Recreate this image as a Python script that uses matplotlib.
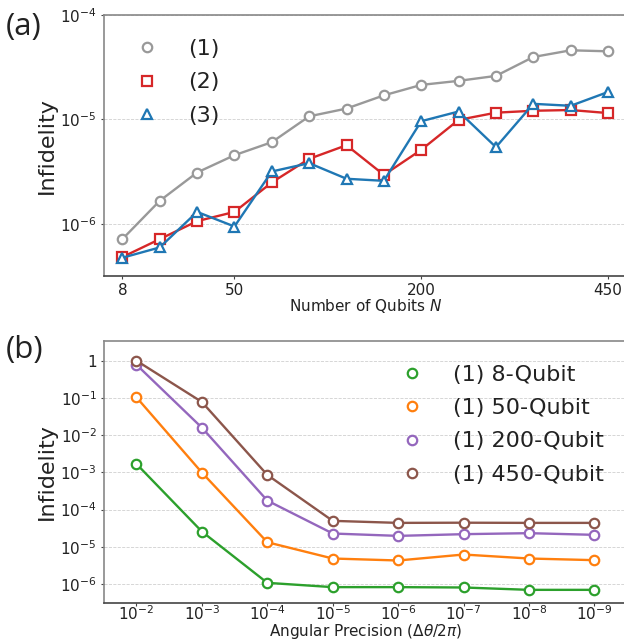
import matplotlib
matplotlib.use("Agg")
import matplotlib.pyplot as plt
from matplotlib.lines import Line2D
from matplotlib.ticker import NullLocator, FixedLocator, FixedFormatter

# ---------------- data: panel (a) ----------------
qubit_tick_pos = [0, 3, 8, 13]
qubit_tick_labels = ["8", "50", "200", "450"]
n_points_a = 14
series1 = [7.13e-7, 1.66e-6, 3.10e-6, 4.54e-6, 6.05e-6, 1.07e-5, 1.27e-5,
           1.70e-5, 2.14e-5, 2.34e-5, 2.61e-5, 3.96e-5, 4.59e-5, 4.49e-5]
series2 = [4.80e-7, 7.13e-7, 1.06e-6, 1.30e-6, 2.49e-6, 4.19e-6, 5.66e-6,
           2.94e-6, 5.11e-6, 9.89e-6, 1.16e-5, 1.21e-5, 1.23e-5, 1.15e-5]
series3 = [4.73e-7, 5.94e-7, 1.30e-6, 9.42e-7, 3.17e-6, 3.81e-6, 2.70e-6,
           2.58e-6, 9.61e-6, 1.19e-5, 5.42e-6, 1.41e-5, 1.35e-5, 1.83e-5]
labels_a = ["(1)", "(2)", "(3)"]
a_ytick_vals = [1e-6, 1e-5, 1e-4]
a_ytick_labels = [r"$\mathdefault{10^{-6}}$", r"$\mathdefault{10^{-5}}$", r"$\mathdefault{10^{-4}}$"]

# ---------------- data: panel (b) ----------------
precision_labels = [r"$\mathdefault{10^{-%d}}$" % k for k in range(2, 10)]
q8 = [1.69e-3, 2.58e-5, 1.08e-6, 8.28e-7, 8.28e-7, 8.10e-7, 7.0e-7, 7.0e-7]
q50 = [0.104, 9.9e-4, 1.33e-5, 4.86e-6, 4.30e-6, 6.22e-6, 4.86e-6, 4.39e-6]
q200 = [0.78, 1.59e-2, 1.75e-4, 2.28e-5, 1.97e-5, 2.19e-5, 2.33e-5, 2.10e-5]
q450 = [1.0, 7.78e-2, 8.55e-4, 4.99e-5, 4.40e-5, 4.45e-5, 4.40e-5, 4.40e-5]
labels_b = ["(1) 8-Qubit", "(1) 50-Qubit", "(1) 200-Qubit", "(1) 450-Qubit"]
b_ytick_vals = [1e-6, 1e-5, 1e-4, 1e-3, 1e-2, 1e-1, 1]
b_ytick_labels = [r"$\mathdefault{10^{-6}}$", r"$\mathdefault{10^{-5}}$", r"$\mathdefault{10^{-4}}$",
                  r"$\mathdefault{10^{-3}}$", r"$\mathdefault{10^{-2}}$", r"$\mathdefault{10^{-1}}$", "1"]

plt.rcParams['font.family'] = ['DejaVu Sans']
plt.rcParams['mathtext.fontset'] = 'dejavusans'

fig = plt.figure(figsize=(6.24, 6.44), dpi=100)
W, H = 624.0, 644.0

def axes_px(l, t, r, b):
    return fig.add_axes([l / W, 1 - b / H, (r - l) / W, (b - t) / H])

ax_a = axes_px(103.7, 15.0, 626.7, 276.0)
ax_b = axes_px(103.7, 341.3, 627.2, 602.7)

txt_col = '#222222'
ms, mew, lw = 6.8, 1.6, 1.7

def style(ax):
    for s in ['left', 'top', 'right']:
        ax.spines[s].set_color('#888888')
        ax.spines[s].set_linewidth(1.2)
    ax.spines['bottom'].set_color('#444444')
    ax.spines['bottom'].set_linewidth(1.2)
    ax.tick_params(axis='both', which='major', length=2.5, width=0.8, color='#444444',
                   pad=2.5, labelsize=11, labelcolor=txt_col)
    ax.yaxis.set_minor_locator(NullLocator())
    ax.xaxis.set_minor_locator(NullLocator())
    ax.grid(axis='y', which='major', linestyle='--', color='#d0d0d0', linewidth=0.6)
    ax.set_axisbelow(True)

# ---------------- panel (a) ----------------
xa = list(range(n_points_a))
cols_a = ['#999999', '#d62728', '#1f77b4']
marks_a = ['o', 's', '^']
for ys, c, m in zip([series1, series2, series3], cols_a, marks_a):
    ax_a.plot(xa, ys, color=c, lw=lw, marker=m, ms=ms, mew=mew, mfc='white', mec=c, zorder=3)
ax_a.set_yscale('log')
ax_a.set_ylim(10 ** -6.5, 1e-4)
ax_a.set_xlim(-0.5, n_points_a - 0.5)
style(ax_a)
ax_a.yaxis.set_major_locator(FixedLocator(a_ytick_vals))
ax_a.yaxis.set_major_formatter(FixedFormatter(a_ytick_labels))
ax_a.yaxis.set_minor_locator(NullLocator())
ax_a.set_xticks(qubit_tick_pos)
ax_a.set_xticklabels(qubit_tick_labels)
ax_a.set_xlabel(r"Number of Qubits $N$", fontsize=11, color=txt_col, labelpad=-1)
ax_a.set_ylabel("Infidelity", fontsize=16, color=txt_col)
ax_a.yaxis.set_label_coords(-0.09, 0.5)
handles_a = [Line2D([], [], ls='none', marker=m, ms=ms, mew=mew, mfc='white', mec=c)
             for c, m in zip(cols_a, marks_a)]
ax_a.legend(handles_a, labels_a, loc='upper left', bbox_to_anchor=(0.061, 0.908),
            frameon=False, fontsize=16, handlelength=1.0, handletextpad=1.35,
            labelspacing=0.6, borderpad=0, borderaxespad=0, labelcolor=txt_col)

# ---------------- panel (b) ----------------
xb = list(range(len(precision_labels)))
cols_b = ['#2ca02c', '#ff7f0e', '#9467bd', '#8c564b']
for ys, c in zip([q8, q50, q200, q450], cols_b):
    ax_b.plot(xb, ys, color=c, lw=lw, marker='o', ms=ms, mew=mew, mfc='white', mec=c, zorder=3)
ax_b.set_yscale('log')
ax_b.set_ylim(10 ** -6.5, 10 ** 0.52)
ax_b.set_xlim(-0.5, len(precision_labels) - 0.5)
style(ax_b)
ax_b.tick_params(axis='x', pad=-1.1)
ax_b.yaxis.set_major_locator(FixedLocator(b_ytick_vals))
ax_b.yaxis.set_major_formatter(FixedFormatter(b_ytick_labels))
ax_b.yaxis.set_minor_locator(NullLocator())
ax_b.set_xticks(xb)
ax_b.set_xticklabels(precision_labels)
ax_b.set_xlabel(r"Angular Precision ($\Delta\theta/2\pi$)", fontsize=11, color=txt_col, labelpad=-1)
ax_b.set_ylabel("Infidelity", fontsize=16, color=txt_col)
ax_b.yaxis.set_label_coords(-0.09, 0.5)
handles_b = [Line2D([], [], ls='none', marker='o', ms=ms, mew=mew, mfc='white', mec=c)
             for c in cols_b]
ax_b.legend(handles_b, labels_b, loc='upper left', bbox_to_anchor=(0.568, 0.91),
            frameon=False, fontsize=16, handlelength=1.0, handletextpad=1.35,
            labelspacing=0.6, borderpad=0, borderaxespad=0, labelcolor=txt_col)

fig.text(6 / W, 1 - 12 / H, "(a)", fontsize=22.5, color=txt_col, ha='left', va='top',
         family=['Open Sans', 'DejaVu Sans'])
fig.text(6 / W, 1 - 335 / H, "(b)", fontsize=22.5, color=txt_col, ha='left', va='top',
         family=['Open Sans', 'DejaVu Sans'])

fig.savefig("out.png", dpi=100)
